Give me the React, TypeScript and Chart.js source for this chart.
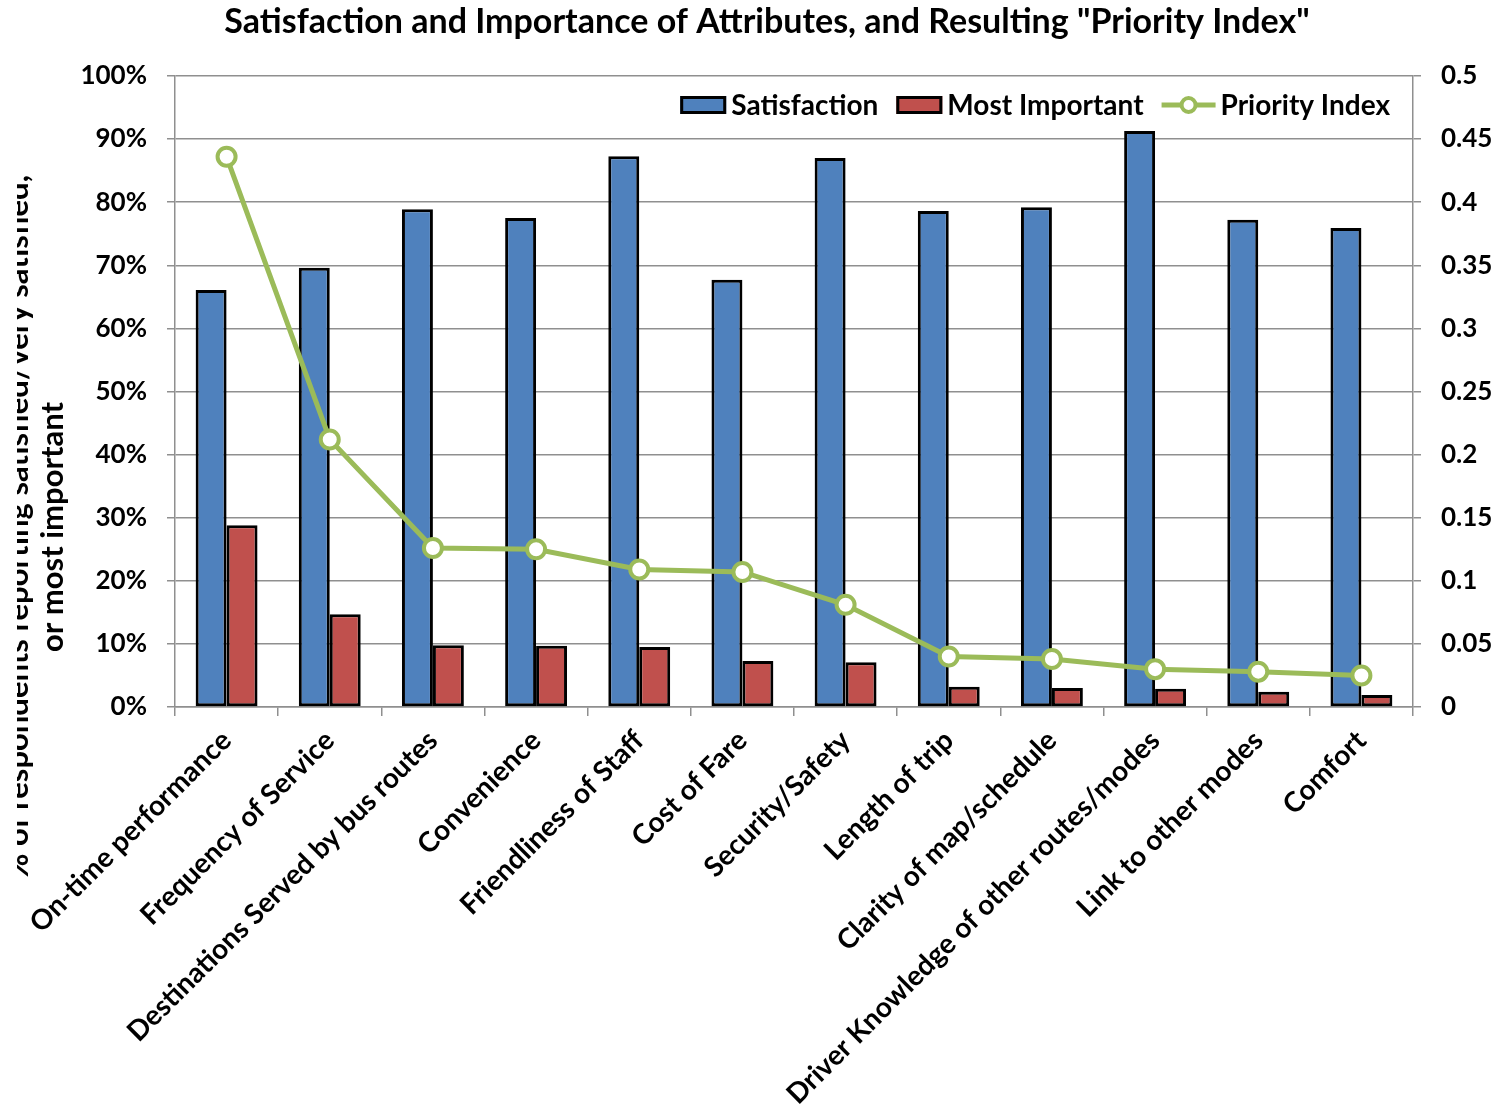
import React, { useEffect, useRef } from "react";
import { Chart, registerables } from "chart.js";

Chart.register(...registerables);

const categories = [
  "On-time performance",
  "Frequency of Service",
  "Destinations Served by bus routes",
  "Convenience",
  "Friendliness of Staff",
  "Cost of Fare",
  "Security/Safety",
  "Length of trip",
  "Clarity of map/schedule",
  "Driver Knowledge of other routes/modes",
  "Link to other modes",
  "Comfort",
];
const satisfaction = [0.661, 0.696, 0.789, 0.775, 0.873, 0.677, 0.870, 0.786, 0.792, 0.913, 0.772, 0.759];
const mostImportant = [0.288, 0.147, 0.098, 0.097, 0.095, 0.073, 0.071, 0.032, 0.030, 0.029, 0.024, 0.019];
const priorityIndex = [0.436, 0.212, 0.126, 0.125, 0.109, 0.107, 0.081, 0.040, 0.038, 0.030, 0.028, 0.025];

const seriesNames = ["Satisfaction", "Most Important", "Priority Index"];
const chartTitle = 'Satisfaction and Importance of Attributes, and Resulting "Priority Index"';
const yTitleLines = ["% of respondents reporting satisfied/very satisfied,", "or most important"];

const FONT = "Lato, 'DejaVu Sans', sans-serif";
const BLUE = "#4F81BD";
const RED = "#C0504D";
const GREEN = "#9BBB59";
const GRID = "#8f8f8f";

const overlayPlugin = {
  id: "overlay",
  afterDraw(chart: any) {
    const ctx: CanvasRenderingContext2D = chart.ctx;
    const area = chart.chartArea;
    ctx.save();
    ctx.fillStyle = "#000";

    // Title
    ctx.font = `bold 34px ${FONT}`;
    ctx.textAlign = "center";
    ctx.textBaseline = "middle";
    ctx.fillText(chartTitle, 767, 22);

    // Y axis title (two lines, first clipped at left)
    ctx.save();
    ctx.beginPath();
    ctx.rect(17, 0, 200, chart.height);
    ctx.clip();
    ctx.font = `bold 31px ${FONT}`;
    ctx.textAlign = "center";
    ctx.textBaseline = "alphabetic";
    const baselines = [28, 63];
    yTitleLines.forEach((line, i) => {
      ctx.save();
      ctx.translate(baselines[i], 527);
      ctx.rotate(-Math.PI / 2);
      ctx.fillText(line, 0, 0);
      ctx.restore();
    });
    ctx.restore();

    // Legend
    ctx.font = `bold 28px ${FONT}`;
    ctx.textAlign = "left";
    ctx.textBaseline = "middle";
    const ly = area.top + 29;
    const boxW = 46, boxH = 18, gapIn = 5, gapOut = 18, lineW = 54;
    const widths = seriesNames.map((n) => ctx.measureText(n).width);
    const total = boxW + gapIn + widths[0] + gapOut + boxW + gapIn + widths[1] + gapOut + lineW + gapIn + widths[2];
    let x = area.right - 23 - total;
    const colors = [BLUE, RED];
    for (let i = 0; i < 2; i++) {
      ctx.fillStyle = colors[i];
      ctx.fillRect(x, ly - boxH / 2, boxW, boxH);
      ctx.strokeStyle = "#000";
      ctx.lineWidth = 3;
      ctx.strokeRect(x + 1.5, ly - boxH / 2 + 1.5, boxW - 3, boxH - 3);
      x += boxW + gapIn;
      ctx.fillStyle = "#000";
      ctx.fillText(seriesNames[i], x, ly + 1);
      x += widths[i] + gapOut;
    }
    ctx.strokeStyle = GREEN;
    ctx.lineWidth = 5;
    ctx.beginPath();
    ctx.moveTo(x, ly);
    ctx.lineTo(x + lineW, ly);
    ctx.stroke();
    ctx.beginPath();
    ctx.arc(x + lineW / 2, ly, 7, 0, Math.PI * 2);
    ctx.fillStyle = "#fff";
    ctx.fill();
    ctx.lineWidth = 4;
    ctx.stroke();
    x += lineW + gapIn;
    ctx.fillStyle = "#000";
    ctx.fillText(seriesNames[2], x, ly + 1);

    ctx.restore();
  },
};

export default function App() {
  const canvasRef = useRef<HTMLCanvasElement | null>(null);

  useEffect(() => {
    document.body.style.margin = "0";
    const canvas = canvasRef.current;
    if (!canvas) return;
    const tickFont = { family: FONT, size: 26, weight: "bold" as const };
    const xFont = { family: FONT, size: 28, weight: "bold" as const };
    const chart = new Chart(canvas, {
      type: "bar",
      data: {
        labels: categories,
        datasets: [
          {
            type: "line" as const,
            label: seriesNames[2],
            data: priorityIndex,
            yAxisID: "y1",
            borderColor: GREEN,
            borderWidth: 5,
            pointRadius: 9,
            pointBorderWidth: 4,
            pointBackgroundColor: "#fff",
            pointBorderColor: GREEN,
            tension: 0,
            order: 0,
          },
          {
            label: seriesNames[0],
            data: satisfaction,
            backgroundColor: BLUE,
            borderColor: "#000",
            borderWidth: 3,
            borderSkipped: false,
            yAxisID: "y",
            categoryPercentage: 0.6,
            barPercentage: 1,
            order: 1,
          },
          {
            label: seriesNames[1],
            data: mostImportant,
            backgroundColor: RED,
            borderColor: "#000",
            borderWidth: 3,
            borderSkipped: false,
            yAxisID: "y",
            categoryPercentage: 0.6,
            barPercentage: 1,
            order: 1,
          },
        ] as any,
      },
      options: {
        responsive: false,
        animation: false,
        devicePixelRatio: 1,
        layout: { padding: { top: 76, left: 0, right: 0, bottom: 0 } },
        plugins: {
          legend: { display: false },
          title: { display: false },
          tooltip: { enabled: false },
        },
        scales: {
          x: {
            grid: { offset: true, drawOnChartArea: false, color: GRID, lineWidth: 1.5, tickLength: 9 },
            border: { color: GRID, width: 1.5 },
            ticks: { minRotation: 45, maxRotation: 45, autoSkip: false, font: xFont, color: "#000", padding: 8 },
            afterFit: (s: any) => {
              s.height = 407;
            },
          },
          y: {
            position: "left",
            min: 0,
            max: 1,
            ticks: {
              stepSize: 0.1,
              font: tickFont,
              color: "#000",
              padding: 20,
              callback: (v: any) => Math.round(Number(v) * 100) + "%",
            },
            grid: { color: GRID, lineWidth: 1.5, tickLength: 8 },
            border: { color: GRID, width: 1.5 },
            afterFit: (s: any) => {
              s.width = 175;
            },
          },
          y1: {
            position: "right",
            min: 0,
            max: 0.5,
            ticks: {
              stepSize: 0.05,
              font: tickFont,
              color: "#000",
              padding: 20,
              callback: (v: any) => String(parseFloat(Number(v).toFixed(2))),
            },
            grid: { drawOnChartArea: false, color: GRID, lineWidth: 1.5, tickLength: 8 },
            border: { color: GRID, width: 1.5 },
            afterFit: (s: any) => {
              s.width = 93;
            },
          },
        },
      } as any,
      plugins: [overlayPlugin],
    });
    return () => chart.destroy();
  }, []);

  return (
    <div style={{ position: "absolute", left: 0, top: 0, width: 1506, height: 1114, background: "#fff" }}>
      <canvas ref={canvasRef} width={1506} height={1114} style={{ display: "block", width: 1506, height: 1114 }} />
    </div>
  );
}
